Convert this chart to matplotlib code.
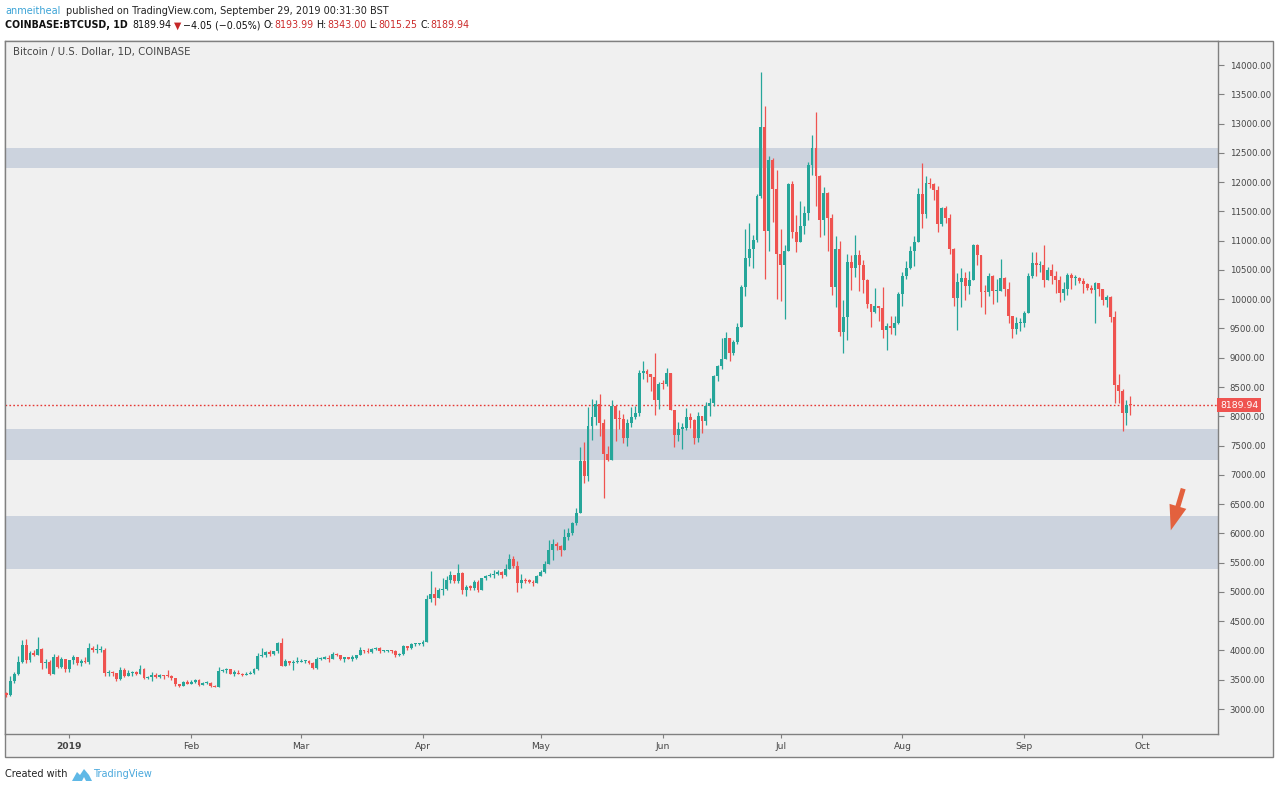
import matplotlib
matplotlib.use("Agg")
import matplotlib.pyplot as plt
import matplotlib.dates as mdates
import numpy as np
import pandas as pd
from matplotlib.patches import Rectangle, Polygon

# ---------------- data (daily BTCUSD, Coinbase; open = previous close) ----------------
start_date = "2018-12-15"
first_open = 3278.0
closes = [
    # Dec 15-31
    3250, 3245, 3480, 3600, 3810, 4090, 3840, 3960, 3930, 4030, 3780, 3810, 3600, 3880, 3720, 3850, 3690,
    # Jan
    3830, 3890, 3790, 3820, 3800, 4050, 4000, 4000, 4000, 3620, 3630, 3610, 3510, 3665, 3565, 3610, 3640,
    3600, 3690, 3535, 3540, 3575, 3550, 3575, 3565, 3560, 3530, 3430, 3395, 3460, 3435,
    # Feb
    3465, 3500, 3410, 3440, 3450, 3385, 3380, 3650, 3660, 3690, 3605, 3620, 3600, 3580, 3590, 3615, 3675,
    3905, 3915, 3980, 3940, 3985, 4130, 3735, 3820, 3785, 3800, 3800,
    # Mar
    3820, 3825, 3790, 3700, 3855, 3860, 3875, 3855, 3945, 3925, 3860, 3880, 3860, 3865, 3920, 4010, 3985,
    3975, 4025, 4050, 3985, 3990, 4000, 3990, 3915, 3935, 4080, 4035, 4105, 4105, 4110,
    # Apr
    4150, 4885, 4960, 4900, 5030, 5050, 5200, 5285, 5190, 5330, 5030, 5080, 5075, 5170, 5035, 5230, 5265,
    5290, 5300, 5340, 5290, 5390, 5560, 5440, 5160, 5205, 5185, 5175, 5150, 5280,
    # May
    5340, 5480, 5720, 5810, 5780, 5720, 5940, 6000, 6170, 6350, 7230, 6985, 7830, 7990, 8205, 7885, 7360,
    7260, 8180, 7960, 7955, 7630, 7880, 7990, 8060, 8740, 8780, 8720, 8665, 8270, 8555,
    # Jun
    8545, 8735, 8115, 7680, 7790, 7805, 7990, 7935, 7630, 8010, 7915, 8170, 8235, 8695, 8855, 8980, 9335,
    9080, 9275, 9530, 10210, 10700, 10860, 11010, 11765, 12940, 11160, 12375, 11880, 10770,
    # Jul
    10580, 10820, 11975, 11150, 10985, 11250, 11480, 12300, 12580, 12100, 11350, 11810, 11380, 10200,
    10860, 9440, 9690, 10640, 10530, 10760, 10590, 10330, 9920, 9775, 9880, 9850, 9480, 9535, 9500, 9590, 10090,
    # Aug
    10400, 10530, 10820, 10980, 11800, 11460, 11980, 11965, 11860, 11290, 11560, 11390, 10860, 10020,
    10300, 10360, 10220, 10330, 10920, 10760, 10130, 10120, 10400, 10140, 10140, 10370, 10180, 9720, 9490, 9590, 9600,
    # Sep
    9770, 10390, 10620, 10580, 10580, 10320, 10490, 10400, 10320, 10100, 10170, 10420, 10360, 10360,
    10310, 10260, 10190, 10160, 10270, 10170, 9980, 10030, 9690, 8530, 8430, 8060, 8193.99, 8189.94,
]
highs = [
    3295, 3290, 3560, 3640, 3900, 4180, 4200, 3990, 4000, 4230, 4040, 3860, 3830, 3940, 3930, 3880, 3850,
    3845, 3915, 3890, 3850, 3880, 4120, 4070, 4110, 4070, 4035, 3670, 3645, 3615, 3725, 3700, 3665, 3650,
    3650, 3750, 3700, 3560, 3630, 3610, 3595, 3580, 3665, 3580, 3535, 3435, 3485, 3495,
    3490, 3515, 3505, 3455, 3475, 3460, 3410, 3720, 3675, 3700, 3690, 3660, 3660, 3620, 3640, 3655, 3700,
    3950, 4050, 3990, 4010, 3995, 4150, 4210, 3860, 3820, 3840, 3880,
    3860, 3840, 3830, 3805, 3880, 3890, 3900, 3920, 3970, 3950, 3930, 3895, 3895, 3930, 3930, 4060, 4010,
    4040, 4035, 4060, 4065, 4010, 4010, 4005, 4000, 3950, 4100, 4080, 4135, 4135, 4120,
    4175, 4950, 5350, 5080, 5060, 5240, 5265, 5360, 5290, 5470, 5335, 5110, 5120, 5195, 5200, 5240, 5290,
    5330, 5380, 5380, 5350, 5480, 5640, 5620, 5530, 5300, 5235, 5225, 5195, 5295,
    5370, 5530, 5880, 5900, 5850, 5800, 6080, 6100, 6200, 6430, 7480, 7560, 8150, 8300, 8280, 8380, 7950,
    7490, 8280, 8200, 8100, 8040, 7960, 8160, 8170, 8790, 8950, 8815, 8730, 9080, 8590,
    8620, 8820, 8740, 8115, 7900, 7880, 8140, 8050, 7950, 8080, 8010, 8240, 8315, 8700, 8880, 9340, 9440,
    9340, 9300, 9600, 10240, 11200, 11300, 11090, 11800, 13880, 13300, 12440, 12420, 12200,
    11200, 10920, 11990, 12020, 11430, 11670, 11590, 12340, 12800, 13200, 12120, 11920, 11830, 11450,
    11080, 11000, 9980, 10770, 10750, 11100, 10840, 10670, 10340, 9920, 10190, 9890, 10200, 9590, 9720, 9720, 10120,
    10460, 10650, 10900, 11080, 11900, 12320, 12100, 12070, 11990, 11930, 11580, 11590, 11450, 10870,
    10450, 10540, 10460, 10480, 10950, 10950, 10760, 10240, 10440, 10420, 10340, 10680, 10380, 10290, 9720, 9690, 9680,
    9800, 10440, 10800, 10800, 10650, 10920, 10550, 10600, 10480, 10390, 10300, 10450, 10450, 10420,
    10380, 10360, 10270, 10250, 10300, 10280, 10170, 10080, 10050, 9790, 8730, 8470, 8270, 8343.00,
]
lows = [
    3190, 3200, 3230, 3440, 3580, 3790, 3780, 3800, 3900, 3920, 3680, 3700, 3580, 3590, 3700, 3700, 3640,
    3630, 3770, 3750, 3730, 3785, 3770, 3970, 3960, 3980, 3560, 3565, 3565, 3480, 3500, 3550, 3560, 3560,
    3575, 3595, 3505, 3510, 3470, 3535, 3530, 3520, 3550, 3500, 3400, 3375, 3385, 3425,
    3425, 3445, 3390, 3405, 3430, 3370, 3375, 3375, 3630, 3615, 3600, 3570, 3590, 3565, 3575, 3590, 3600,
    3670, 3880, 3880, 3905, 3930, 3955, 3730, 3730, 3760, 3670, 3780,
    3800, 3780, 3770, 3690, 3690, 3830, 3850, 3810, 3850, 3900, 3840, 3810, 3850, 3820, 3860, 3915, 3960,
    3955, 3965, 4000, 3950, 3970, 3980, 3965, 3880, 3905, 3930, 4015, 4020, 4070, 4090,
    4080, 4150, 4820, 4780, 4890, 4950, 5040, 5150, 5150, 5160, 4960, 4930, 5040, 5030, 4990, 5025, 5210,
    5260, 5230, 5290, 5230, 5280, 5385, 5400, 5000, 5060, 5150, 5150, 5100, 5145,
    5270, 5325, 5470, 5550, 5720, 5610, 5720, 5880, 5980, 6150, 6340, 6860, 6900, 7600, 7850, 7660, 6600,
    7230, 7255, 7580, 7790, 7550, 7500, 7820, 7950, 8000, 8640, 8580, 8430, 8020, 8130,
    8470, 8520, 8100, 7480, 7580, 7440, 7770, 7800, 7520, 7560, 7720, 7850, 8000, 8170, 8610, 8800, 8970,
    8940, 9050, 9230, 9530, 10060, 10570, 10530, 10980, 11720, 10340, 10820, 11320, 10000,
    9970, 9670, 10820, 11050, 10800, 10990, 11120, 11350, 12120, 11600, 11060, 11100, 10830, 10080,
    9870, 9370, 9080, 9300, 10150, 10380, 10140, 10100, 9850, 9520, 9760, 9620, 9330, 9140, 9400, 9380, 9570,
    9880, 10340, 10520, 10570, 10970, 11220, 11380, 11900, 11690, 11140, 11250, 11300, 10770, 9880,
    9470, 9860, 9980, 10090, 10320, 10580, 9860, 9740, 10050, 9910, 9960, 10140, 10050, 9600, 9340, 9400, 9450,
    9520, 9760, 10360, 10400, 10460, 10200, 10320, 10260, 10100, 9950, 9990, 10070, 10170, 10250,
    10270, 10100, 10150, 10100, 9600, 10060, 9900, 9860, 9610, 8220, 8230, 7740, 7850, 8015.25,
]
support_bands = [(12240, 12575), (7255, 7780), (5395, 6300)]
last_price = 8189.94
y_ticks = list(range(3000, 14001, 500))
month_ticks = ["2019-01-01", "2019-02-01", "2019-03-01", "2019-04-01", "2019-05-01",
               "2019-06-01", "2019-07-01", "2019-08-01", "2019-09-01", "2019-10-01"]
month_labels = ["2019", "Feb", "Mar", "Apr", "May", "Jun", "Jul", "Aug", "Sep", "Oct"]

# ---------------- styling ----------------
UP = "#26a69a"
DOWN = "#ef5350"
BG = "#f0f0f0"
FRAME = "#808080"
BAND = "#ccd3de"
TXT = "#454545"
W, H = 1280, 790

def fx(px):
    return px / W

def fy(py):
    return 1 - py / H

fig = plt.figure(figsize=(12.8, 7.9), dpi=100)
fig.patch.set_facecolor("white")
renderer = fig.canvas.get_renderer()

# outer box (chart + axis areas), drawn beneath the axes
fig.patches.append(Rectangle((fx(5), fy(757)), fx(1273) - fx(5), fy(41) - fy(757),
                             transform=fig.transFigure, facecolor=BG, edgecolor=FRAME,
                             lw=1.0, zorder=-5))

ax = fig.add_axes([fx(5), fy(734), fx(1218) - fx(5), fy(41) - fy(734)])
ax.set_zorder(2)
ax.set_facecolor(BG)

dates = pd.date_range(start_date, periods=len(closes), freq="D")
xd = mdates.date2num(dates.to_pydatetime())
c = np.array(closes, dtype=float)
o = np.concatenate([[first_open], c[:-1]])
hi = np.maximum(np.array(highs, dtype=float), np.maximum(o, c))
lo = np.minimum(np.array(lows, dtype=float), np.minimum(o, c))
cols = [UP if cc >= oo else DOWN for oo, cc in zip(o, c)]

for b0, b1 in support_bands:
    ax.axhspan(b0, b1, color=BAND, lw=0, zorder=1)

ax.vlines(xd, lo, hi, colors=cols, lw=0.9, zorder=3)
body_bottom = np.minimum(o, c)
body_h = np.maximum(np.abs(c - o), 20)
ax.bar(xd, body_h, bottom=body_bottom, width=0.74, color=cols, linewidth=0, zorder=4)

ax.axhline(last_price, color="#e53935", lw=1.0, ls=(0, (1.2, 1.6)), zorder=2)

x0 = mdates.date2num(pd.Timestamp(start_date).to_pydatetime())
ax.set_xlim(x0 + 0.64, x0 + 309.3)
ax.set_ylim(2573, 14410)

# y axis on the right
ax.yaxis.tick_right()
ax.set_yticks(y_ticks)
probe = fig.text(0, 0, "14000.00", fontsize=10)
ysize = 10 * 41 / probe.get_window_extent(renderer).width
probe.remove()
ax.set_yticklabels([f"{v:.2f}" for v in y_ticks])
ax.tick_params(axis="y", direction="out", length=4, width=0.8, color=FRAME,
               labelsize=ysize, labelcolor=TXT, pad=4.5)

# x axis
ax.set_xticks(mdates.date2num(pd.to_datetime(month_ticks).to_pydatetime()))
ax.set_xticklabels(month_labels)
ax.tick_params(axis="x", direction="out", length=3, width=0.8, color=FRAME,
               labelsize=ysize * 1.05, labelcolor=TXT, pad=3)
ax.get_xticklabels()[0].set_fontweight("bold")

for s in ax.spines.values():
    s.set_color(FRAME)
    s.set_linewidth(1.0)

# price label on axis
ax.text(1.0017, last_price, f"{last_price:.2f}", transform=ax.get_yaxis_transform(),
        ha="left", va="center", color="white", fontsize=ysize * 1.08,
        bbox=dict(boxstyle="square,pad=0.3", fc=DOWN, ec="none"), zorder=10, clip_on=False)

# ---------------- header & footer texts ----------------
def size_for(s, width, **kw):
    t = fig.text(0, 0, s, fontsize=10, **kw)
    w = t.get_window_extent(renderer).width
    t.remove()
    return 10 * width / w

def place_runs(runs, x_start, y, size):
    """Place text runs one after another; returns total width in px."""
    x = x_start
    objs = []
    for s, col, wt, gap in runs:
        t = fig.text(fx(x), fy(y), s, fontsize=size, color=col, fontweight=wt,
                     va="center", ha="left")
        w = t.get_window_extent(renderer).width
        objs.append(t)
        x += w + gap * size / 7.0
    return x - x_start, objs

s1 = size_for("anmeitheal published on TradingView.com, September 29, 2019 00:31:30 BST", 382)
fig.text(fx(5), fy(11.5), "anmeitheal", fontsize=s1, color="#3ba3d6", va="center", ha="left")
fig.text(fx(66), fy(11.5), "published on TradingView.com, September 29, 2019 00:31:30 BST",
         fontsize=s1, color="#222222", va="center", ha="left")

RED = "#cc2b2b"
BLK = "#111111"
line2 = [
    ("COINBASE:BTCUSD, 1D", BLK, "bold", 5),
    ("8189.94", BLK, "normal", 2),
    ("\u25BC", "#c62828", "normal", 2),
    ("\u22124.05 (\u22120.05%)", BLK, "normal", 3),
    ("O:", BLK, "normal", 0.5),
    ("8193.99", RED, "normal", 3),
    ("H:", BLK, "normal", 0.5),
    ("8343.00", RED, "normal", 3),
    ("L:", BLK, "normal", 0.5),
    ("8015.25", RED, "normal", 3),
    ("C:", BLK, "normal", 0.5),
    ("8189.94", RED, "normal", 0),
]
total, objs = place_runs(line2, 5, 25.5, 10)
for t in objs:
    t.remove()
s2 = 10 * 468 / total
place_runs(line2, 5, 25.5, s2)

s3 = size_for("Bitcoin / U.S. Dollar, 1D, COINBASE", 177)
fig.text(fx(13), fy(52.5), "Bitcoin / U.S. Dollar, 1D, COINBASE", fontsize=s3, color="#444444",
         va="center", ha="left")

s4 = size_for("Created with", 63)
fig.text(fx(5), fy(774), "Created with", fontsize=s4, color="#222222", va="center", ha="left")
fig.text(fx(93), fy(774), "TradingView", fontsize=s4, color="#4aa8dc", va="center", ha="left")
logo = [(72, 781), (77, 772), (80, 775), (84, 769), (89, 775), (92, 781), (86, 781), (84, 777), (82, 781)]
fig.patches.append(Polygon([(fx(a), fy(b)) for a, b in logo], closed=True,
                           transform=fig.transFigure, fc="#5fb8e6", ec="none", zorder=5))

# hand-drawn arrow annotation
ax.annotate("", xy=(fx(1170), fy(533)), xycoords="figure fraction",
            xytext=(fx(1184), fy(486)), textcoords="figure fraction",
            arrowprops=dict(arrowstyle="simple,head_length=1.0,head_width=0.7,tail_width=0.2",
                            color="#e3613e", lw=0, mutation_scale=18))

fig.savefig("out.png", dpi=100, facecolor="white")
